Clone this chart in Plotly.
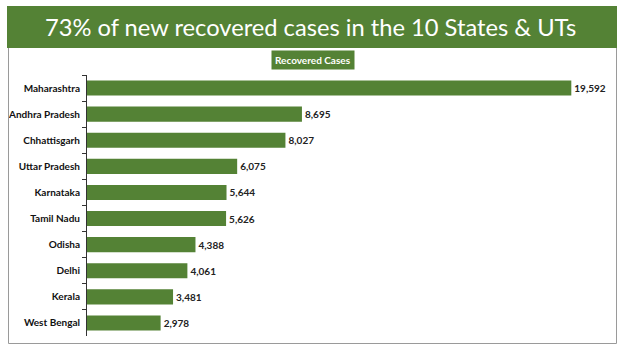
import plotly.graph_objects as go

states = ["Maharashtra", "Andhra Pradesh", "Chhattisgarh", "Uttar Pradesh", "Karnataka",
          "Tamil Nadu", "Odisha", "Delhi", "Kerala", "West Bengal"]
recovered = [19592, 8695, 8027, 6075, 5644, 5626, 4388, 4061, 3481, 2978]
title_text = "73% of new recovered cases in the 10 States & UTs"
legend_text = "Recovered Cases"

W, H = 624, 353
GREEN = "#548235"

def px(x):
    return x / W

def py(y):
    return 1 - y / H

fig = go.Figure(go.Bar(
    x=recovered, y=states, orientation="h",
    marker=dict(color=GREEN, line=dict(width=0)),
    width=0.58,
    text=[f"{v:,}" for v in recovered], textposition="outside",
    textfont=dict(family="Lato", size=10, color="#222222", weight="bold"),
    cliponaxis=False,
))

fig.update_layout(
    width=W, height=H, margin=dict(l=0, r=0, t=0, b=0),
    paper_bgcolor="white", plot_bgcolor="white", showlegend=False,
    xaxis=dict(domain=[px(87), px(616)], range=[0, 529 / 0.02472], visible=False),
    yaxis=dict(domain=[py(336), py(75)], autorange="reversed", type="category",
               showline=True, linecolor="#333333", linewidth=1,
               ticks="outside", ticklen=4, tickcolor="#333333", tickson="boundaries",
               tickfont=dict(family="Lato", size=10, color="#111111", weight="bold"),
               ticklabelstandoff=4, showgrid=False),
    shapes=[
        dict(type="rect", xref="paper", yref="paper", x0=px(7), x1=px(617), y0=py(48), y1=py(6),
             fillcolor=GREEN, line=dict(width=0), layer="below"),
        dict(type="path", xref="paper", yref="paper",
             path=f"M {px(8.5)} {py(48)} L {px(8.5)} {py(343.5)} L {px(616.5)} {py(343.5)} L {px(616.5)} {py(48)}",
             line=dict(color="#9a9a9a", width=1)),
    ],
    annotations=[
        dict(text=title_text, xref="paper", yref="paper", x=px(310), y=py(27),
             xanchor="center", yanchor="middle", showarrow=False,
             font=dict(family="Lato", size=23.7, color="white")),
        dict(text=f"<b>{legend_text}</b>", xref="paper", yref="paper", x=px(313), y=py(60),
             xanchor="center", yanchor="middle", showarrow=False,
             bgcolor=GREEN, borderpad=3,
             font=dict(family="Lato", size=10, color="white")),
    ],
)

fig.write_html("out.html")
